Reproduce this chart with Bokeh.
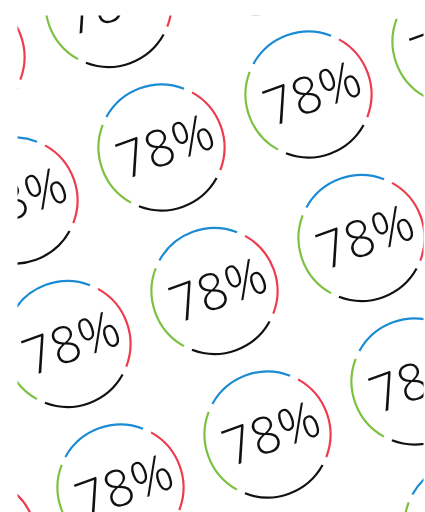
from bokeh.plotting import figure
from bokeh.models import Range1d, ColumnDataSource
from bokeh.core.properties import value
from bokeh.embed import file_html
from bokeh.resources import INLINE
import math

# ---- data ----
percent_value = 78
label_text = f"{percent_value}%"
segment_colors = ["#1B8BD4", "#EE3B4D", "#111111", "#7CC142"]   # top, right, bottom, left
segment_start_deg = [69, -21, -111, 159]
segment_end_deg = [151, 61, -29, 241]

# ---- layout of the repeating badge pattern (pixel space) ----
W, H = 425, 512
ML, MT, MR, MB = 17, 15, 2, 0
base = (161.0, 147.0)
vec_a = (147.0, -53.0)
vec_b = (53.0, 143.5)
radius = 63.0
rot = 20.0
font_px = 51

centers = []
for i in range(-4, 5):
    for j in range(-4, 5):
        sx = base[0] + i * vec_a[0] + j * vec_b[0]
        sy = base[1] + i * vec_a[1] + j * vec_b[1]
        if -80 < sx < W + 80 and -80 < sy < H + 80:
            centers.append((sx, -sy))

p = figure(width=W, height=H, output_backend="svg", toolbar_location=None,
           x_range=Range1d(ML, W - MR), y_range=Range1d(-(H - MB), -MT),
           x_axis_location=None, y_axis_location=None,
           min_border_left=ML, min_border_top=MT, min_border_right=MR, min_border_bottom=MB)
p.grid.visible = False
p.outline_line_color = None
p.background_fill_color = "white"
p.border_fill_color = "white"

xs = [c[0] for c in centers]
ys = [c[1] for c in centers]

for col, a0, a1 in zip(segment_colors, segment_start_deg, segment_end_deg):
    src = ColumnDataSource(dict(x=xs, y=ys))
    p.arc(x="x", y="y", radius=radius, start_angle=math.radians(a0), end_angle=math.radians(a1),
          direction="anticlock", line_color=col, line_width=2.2, source=src)

# text anchor placed so that the digit ink is centred on the badge
r = math.radians(rot)
down = (math.sin(r), -math.cos(r))
shift = -2.0
along = (math.cos(r), math.sin(r))
hshift = 4.0
tx = [x + down[0] * shift + along[0] * hshift for x in xs]
ty = [y + down[1] * shift + along[1] * hshift for y in ys]
p.text(x=tx, y=ty, text=[label_text] * len(tx), angle=r,
       text_font=value("Open Sans Light"), text_font_size=f"{font_px}px",
       text_align="center", text_baseline="alphabetic", text_color="#111111")

open("out.html", "w").write(file_html(p, INLINE))
